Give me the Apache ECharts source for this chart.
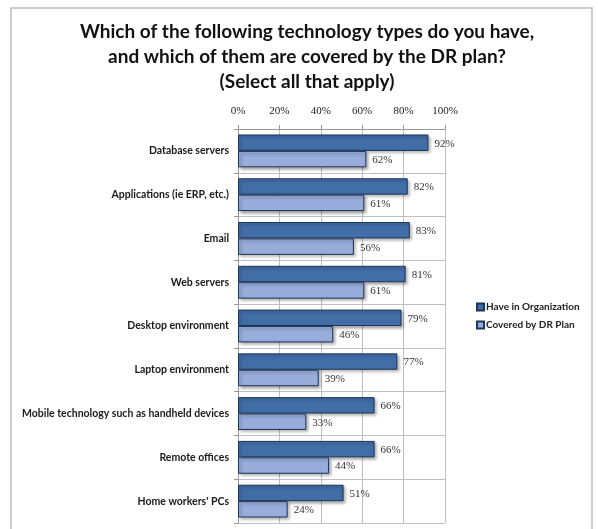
<!DOCTYPE html>
<html><head><meta charset="utf-8">
<script src="https://cdn.jsdelivr.net/npm/echarts@6/dist/echarts.min.js"></script>
<style>html,body{margin:0;padding:0;background:#fff}#c{width:598px;height:529px}</style>
</head><body><div id="c"></div>
<script>
const categories = ["Database servers","Applications (ie ERP, etc.)","Email","Web servers","Desktop environment","Laptop environment","Mobile technology such as handheld devices","Remote offices","Home workers' PCs"];
const haveInOrg = [92,82,83,81,79,77,66,66,51];
const coveredByDR = [62,61,56,61,46,39,33,44,24];
const seriesNames = ["Have in Organization","Covered by DR Plan"];
const tickValues = [0,20,40,60,80,100];

const chart = echarts.init(document.getElementById('c'));
const serif = '"Liberation Serif", "DejaVu Serif", serif';
const sans = 'Lato, "Open Sans", sans-serif';
chart.setOption({
  animation: false,
  graphic: [{type:'rect', shape:{x:11,y:8,width:581,height:530}, style:{fill:'none', stroke:'#bdbdbd', lineWidth:1.5}, silent:true}],
  title: {
    text: "Which of the following technology types do you have,\nand which of them are covered by the DR plan?\n(Select all that apply)",
    left: 302, top: 14, textAlign: 'center',
    textStyle: {fontFamily: sans, fontWeight: 'bold', fontSize: 19, lineHeight: 25, color: '#111'}
  },
  legend: {
    orient: 'vertical', left: 471, top: 297, itemWidth: 7, itemHeight: 7, itemGap: 8,
    icon: 'rect',
    textStyle: {fontFamily: sans, fontWeight: 'bold', fontSize: 10, color: '#222', padding:[0,0,0,-3]},
    data: seriesNames
  },
  grid: {left: 238, right: 153, top: 129, bottom: 6, containLabel: false},
  xAxis: {
    type: 'value', position: 'top', min: 0, max: 100, interval: 20,
    axisLine: {show: true, lineStyle: {color: '#999'}},
    axisTick: {show: true, length: 4, inside: false, lineStyle: {color: '#999'}},
    axisLabel: {fontFamily: serif, fontSize: 11, color: '#222', margin: 12,
      formatter: v => tickValues.includes(v) ? v + '%' : ''},
    splitLine: {show: true, lineStyle: {color: '#bfbfbf'}}
  },
  yAxis: {
    type: 'category', inverse: true, data: categories,
    axisLine: {show: true, lineStyle: {color: '#999'}},
    axisTick: {show: true, length: 4, lineStyle: {color: '#999'}},
    axisLabel: {fontFamily: sans, fontWeight: 'bold', fontSize: 10.5, color: '#1a1a1a', margin: 9},
    splitLine: {show: true, lineStyle: {color: '#bfbfbf'}}
  },
  series: [
    {name: seriesNames[0], type: 'bar', data: haveInOrg, barGap: '0%', barCategoryGap: '25%',
     itemStyle: {color: '#426ea8', borderColor: '#1e3558', borderWidth: 1, shadowColor: 'rgba(0,0,0,0.35)', shadowBlur: 3, shadowOffsetX: 2, shadowOffsetY: 2},
     label: {show: true, position: 'right', distance: 6, offset:[0,1], formatter: '{c}%', fontFamily: serif, fontSize: 11, color: '#333'}},
    {name: seriesNames[1], type: 'bar', data: coveredByDR,
     itemStyle: {color: '#98addb', borderColor: '#1e3558', borderWidth: 1, shadowColor: 'rgba(0,0,0,0.35)', shadowBlur: 3, shadowOffsetX: 2, shadowOffsetY: 2},
     label: {show: true, position: 'right', distance: 6, offset:[0,1], formatter: '{c}%', fontFamily: serif, fontSize: 11, color: '#333'}}
  ]
});
</script></body></html>
